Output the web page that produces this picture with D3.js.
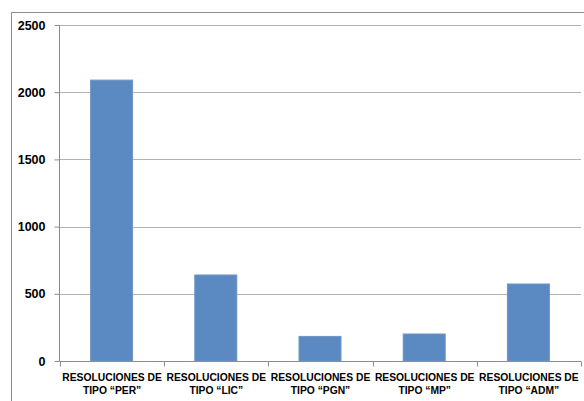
<html>
<style>
  body{
    margin:0;
    background-color:#fff;
  }
  text{
    font-family:"Liberation Sans", Arial, sans-serif;
    font-weight:bold;
    fill:#000;
  }
</style>
<script src='https://d3js.org/d3.v7.min.js'></script>
<body>
  <svg id="chart" width="584" height="401"></svg>
</body>
<script>
  // data
  let categories = ["PER","LIC","PGN","MP","ADM"];
  let values = [2090,640,183,201,573];
  let yTicks = [0,500,1000,1500,2000,2500];

  let svg = d3.select("#chart");
  let plotLeft = 60, plotRight = 581, plotTop = 25, plotBottom = 361;

  // outer frame (left and top sides show, the rest is cut off)
  svg.append("path")
    .attr("d","M11.5,401 L11.5,12.5 L584,12.5")
    .attr("fill","none").attr("stroke","#8c8c8c").attr("stroke-width",1);

  let x = d3.scaleBand().domain(categories).range([plotLeft,plotRight]).paddingInner(0).paddingOuter(0);
  let y = d3.scaleLinear().domain([0,2500]).range([plotBottom,plotTop]);

  // gridlines
  svg.append("g").selectAll("line").data(yTicks.filter(function(d){return d>0;})).enter()
    .append("line")
    .attr("x1",plotLeft).attr("x2",plotRight)
    .attr("y1",function(d){return Math.round(y(d))+0.5;})
    .attr("y2",function(d){return Math.round(y(d))+0.5;})
    .attr("stroke","#b3b3b3");

  // bars
  let bw = 42;
  svg.append("g").selectAll("rect").data(values).enter()
    .append("rect")
    .attr("x",function(d,i){return x(categories[i]) + x.bandwidth()/2 - bw/2 - 0.5;})
    .attr("y",function(d){return y(d);})
    .attr("width",bw)
    .attr("height",function(d){return plotBottom - y(d);})
    .attr("fill","#5b89c2")
    .attr("stroke","#6f95c6")
    .attr("stroke-width",1);

  // y axis
  let yAxis = d3.axisLeft(y).tickValues(yTicks).tickSize(5).tickPadding(9).tickFormat(d3.format("d"));
  let gy = svg.append("g").attr("transform","translate("+(plotLeft-0.5)+",0)").call(yAxis);
  gy.select(".domain").attr("stroke","#8c8c8c").attr("d","M0,"+plotTop+"V"+(plotBottom+0.5));
  gy.selectAll(".tick line").attr("stroke","#8c8c8c");
  gy.selectAll(".tick text").attr("font-size","12.5px").attr("font-family","Liberation Sans, Arial, sans-serif").attr("font-weight","bold").attr("fill","#000");

  // x axis
  let gx = svg.append("g").attr("transform","translate(0,"+(plotBottom+0.5)+")");
  gx.append("line").attr("x1",plotLeft-0.5).attr("x2",plotRight).attr("stroke","#8c8c8c");
  let bounds = categories.map(function(c){return x(c);}).concat([plotRight]);
  gx.selectAll("line.tk").data(bounds).enter()
    .append("line").attr("class","tk")
    .attr("x1",function(d){return Math.round(d)+0.5;})
    .attr("x2",function(d){return Math.round(d)+0.5;})
    .attr("y1",0).attr("y2",5)
    .attr("stroke","#8c8c8c");

  let labels = gx.selectAll("text.lbl").data(categories).enter()
    .append("text").attr("class","lbl")
    .attr("text-anchor","middle")
    .attr("font-size","10.3px");
  labels.append("tspan")
    .attr("x",function(d){return x(d)+x.bandwidth()/2;})
    .attr("y",19)
    .text("RESOLUCIONES DE");
  labels.append("tspan")
    .attr("x",function(d){return x(d)+x.bandwidth()/2;})
    .attr("y",32)
    .text(function(d){return "TIPO \u201C"+d+"\u201D";});
</script>
</html>
